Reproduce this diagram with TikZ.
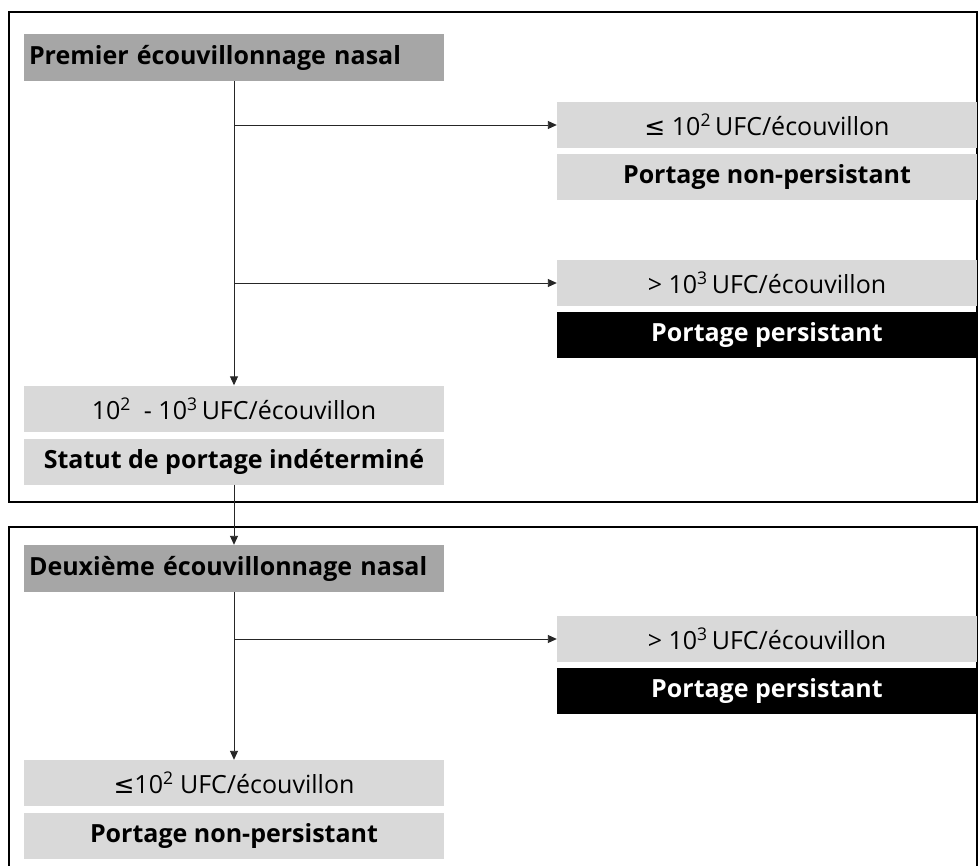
\documentclass[tikz,border=0pt]{standalone}
\usepackage{fontspec}
\setmainfont{Open Sans}
\newfontfamily\symfont{DejaVu Sans}
\usetikzlibrary{arrows.meta}
\definecolor{hdr}{HTML}{A6A6A6}
\definecolor{lite}{HTML}{D9D9D9}
\tikzset{
  base/.style={rectangle, minimum width=420pt, inner sep=0pt, font=\fontsize{25}{29}\selectfont},
  hdrbox/.style={base, fill=hdr, minimum height=47pt, font=\fontsize{25}{29}\selectfont\bfseries, text width=410pt, align=left},
  litebox/.style={base, fill=lite, minimum height=46pt},
  boldbox/.style={base, fill=lite, minimum height=46pt, font=\fontsize{25}{29}\selectfont\bfseries},
  blackbox/.style={base, fill=black, text=white, minimum height=46pt, font=\fontsize{25}{29}\selectfont\bfseries},
  frame/.style={draw=black, line width=1.6pt},
  conn/.style={draw=black!85, line width=0.9pt},
  arr/.style={conn, -{Triangle[length=9pt,width=8pt]}}
}
\begin{document}
\begin{tikzpicture}[x=1pt,y=-1pt]
\useasboundingbox (0,0) rectangle (979,866);
\fill[white] (0,0) rectangle (979,866);
% frames
\draw[frame] (9,12) rectangle (977,502);
\draw[frame] (9,880) -- (9,527) -- (977,527) -- (977,880);
% nodes
\node[hdrbox] (h1) at (234,57.5) {Premier écouvillonnage nasal};
\node[litebox] (r1a) at (767,125) {{\symfont ≤} 10\textsuperscript{2}\,UFC/écouvillon};
\node[boldbox] (r1b) at (767,177) {Portage non-persistant};
\node[litebox] (r2a) at (767,283) {> 10\textsuperscript{3}\,UFC/écouvillon};
\node[blackbox] (r2b) at (767,335) {Portage persistant};
\node[litebox] (l1a) at (234,408.5) {10\textsuperscript{2}\ \ - 10\textsuperscript{3}\,UFC/écouvillon};
\node[boldbox] (l1b) at (234,461.5) {Statut de portage indéterminé};
\node[hdrbox] (h2) at (234,568.5) {Deuxième écouvillonnage nasal};
\node[litebox] (r3a) at (767,639) {> 10\textsuperscript{3}\,UFC/écouvillon};
\node[blackbox] (r3b) at (767,691) {Portage persistant};
\node[litebox] (l2a) at (234,783) {{\symfont ≤}10\textsuperscript{2} UFC/écouvillon};
\node[boldbox] (l2b) at (234,835.5) {Portage non-persistant};
% connectors
\draw[arr] (h1.south) -- (l1a.north);
\coordinate (b1) at (h1.south |- r1a.west);
\coordinate (b2) at (h1.south |- r2a.west);
\draw[arr] (b1) -- (r1a.west);
\draw[arr] (b2) -- (r2a.west);
\draw[arr] (l1b.south) -- (h2.north);
\draw[arr] (h2.south) -- (l2a.north);
\coordinate (b3) at (h2.south |- r3a.west);
\draw[arr] (b3) -- (r3a.west);
\end{tikzpicture}
\end{document}
